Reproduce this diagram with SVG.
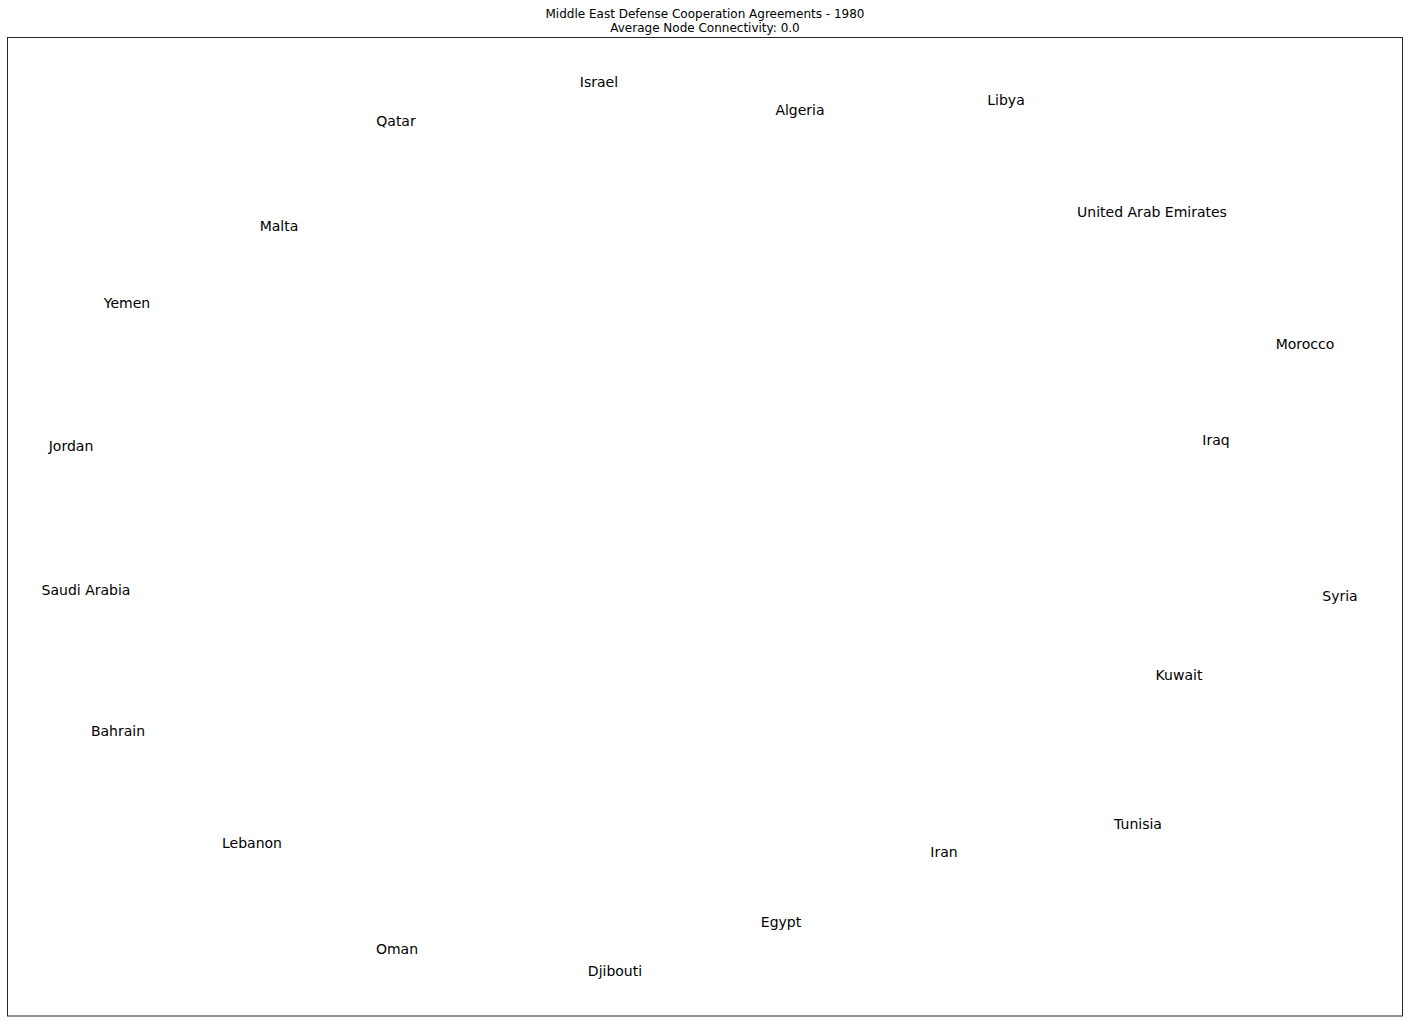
<svg xmlns="http://www.w3.org/2000/svg" width="1409" height="1023" viewBox="0 0 1409 1023">
<style>
.t{font-family:"DejaVu Sans",sans-serif;font-size:12px;fill:#000;text-anchor:middle}
.n{font-family:"DejaVu Sans",sans-serif;font-size:14px;fill:#000;text-anchor:middle}
</style>
<rect width="1409" height="1023" fill="#fff"/>
<text class="t" x="705" y="17.5">Middle East Defense Cooperation Agreements - 1980</text>
<text class="t" x="705" y="31.5">Average Node Connectivity: 0.0</text>
<rect x="7.5" y="37.5" width="1395" height="978.5" fill="none" stroke="#262626" stroke-width="1"/>
<g id="edges"></g>
<g id="nodes">
<g id="israel"><text class="n" x="599" y="87">Israel</text></g>
<g id="qatar"><text class="n" x="396" y="126">Qatar</text></g>
<g id="algeria"><text class="n" x="800" y="115">Algeria</text></g>
<g id="libya"><text class="n" x="1006" y="105">Libya</text></g>
<g id="uae"><text class="n" x="1152" y="217">United Arab Emirates</text></g>
<g id="malta"><text class="n" x="279" y="231">Malta</text></g>
<g id="yemen"><text class="n" x="127" y="308">Yemen</text></g>
<g id="morocco"><text class="n" x="1305" y="349">Morocco</text></g>
<g id="jordan"><text class="n" x="71" y="451">Jordan</text></g>
<g id="iraq"><text class="n" x="1216" y="445">Iraq</text></g>
<g id="saudi"><text class="n" x="86" y="595">Saudi Arabia</text></g>
<g id="syria"><text class="n" x="1340" y="601">Syria</text></g>
<g id="kuwait"><text class="n" x="1179" y="680">Kuwait</text></g>
<g id="bahrain"><text class="n" x="118" y="736">Bahrain</text></g>
<g id="tunisia"><text class="n" x="1138" y="829">Tunisia</text></g>
<g id="lebanon"><text class="n" x="252" y="848">Lebanon</text></g>
<g id="iran"><text class="n" x="944" y="857">Iran</text></g>
<g id="egypt"><text class="n" x="781" y="927">Egypt</text></g>
<g id="oman"><text class="n" x="397" y="954">Oman</text></g>
<g id="djibouti"><text class="n" x="615" y="976">Djibouti</text></g>
</g>
</svg>
